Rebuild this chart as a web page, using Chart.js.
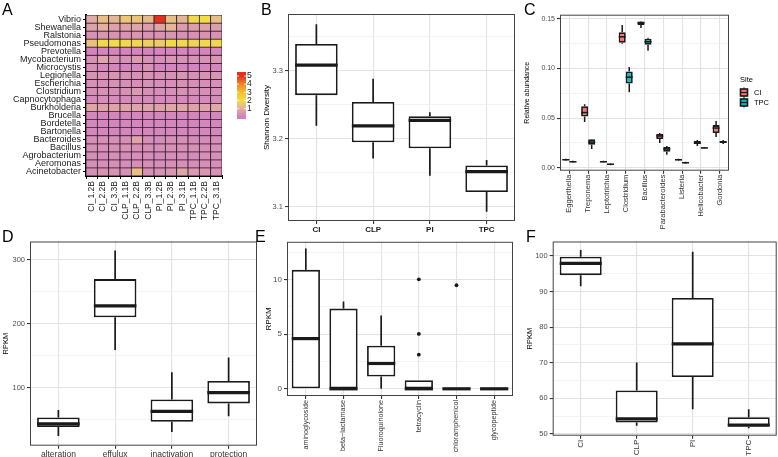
<!DOCTYPE html>
<html>
<head>
<meta charset="utf-8">
<script src="https://cdn.jsdelivr.net/npm/chart.js@4"></script>
<style>
  body { margin: 0; background: #fff; }
  #wrap { position: relative; width: 778px; height: 457px; overflow: hidden; }
  canvas { position: absolute; }
  .tag { position: absolute; font: 16px/1 'Liberation Sans', Arial, sans-serif; color: #000; z-index: 5; }
</style>
</head>
<body>
<div id="wrap">
  <canvas id="cA" style="left:0;top:0" width="255" height="235"></canvas>
  <canvas id="cB" style="left:255px;top:0" width="262" height="235"></canvas>
  <canvas id="cC" style="left:520px;top:0" width="258" height="235"></canvas>
  <canvas id="cD" style="left:0;top:235px" width="260" height="222"></canvas>
  <canvas id="cE" style="left:255px;top:235px" width="262" height="222"></canvas>
  <canvas id="cF" style="left:512px;top:235px" width="266" height="222"></canvas>
  <div class="tag" style="left:2px;top:2px">A</div>
  <div class="tag" style="left:261px;top:2px">B</div>
  <div class="tag" style="left:524px;top:2px">C</div>
  <div class="tag" style="left:2px;top:229px">D</div>
  <div class="tag" style="left:255px;top:229px">E</div>
  <div class="tag" style="left:526px;top:229px">F</div>
</div>
<script>
// ---------- data ----------
// A: heatmap (rows top to bottom)
const genera = ['Vibrio', 'Shewanella', 'Ralstonia', 'Pseudomonas', 'Prevotella', 'Mycobacterium',
  'Microcystis', 'Legionella', 'Escherichia', 'Clostridium', 'Capnocytophaga', 'Burkholderia',
  'Brucella', 'Bordetella', 'Bartonella', 'Bacteroides', 'Bacillus', 'Agrobacterium', 'Aeromonas', 'Acinetobacter'];
const samples = ['CI_1.2B', 'CI_2.2B', 'CI_3.3B', 'CLP_1.1B', 'CLP_2.2B', 'CLP_3.3B',
  'PI_1.2B', 'PI_2.3B', 'PI_3.1B', 'TPC_1.1B', 'TPC_2.2B', 'TPC_3.1B'];
const heat = [
  [0.9, 1.3, 1.1, 1.5, 1.4, 1.2, 5.0, 1.3, 1.1, 1.9, 2.0, 1.3],
  [0.7, 1.0, 0.7, 0.7, 0.8, 0.6, 0.8, 1.1, 0.6, 0.6, 0.7, 0.6],
  [0.4, 0.45, 0.4, 0.4, 0.45, 0.4, 0.4, 0.45, 0.35, 0.35, 0.4, 0.4],
  [1.4, 1.9, 1.95, 1.9, 1.85, 1.7, 1.6, 1.95, 1.9, 1.8, 1.9, 1.85],
  [0.1, 0.1, 0.1, 0.1, 0.1, 0.1, 0.1, 0.1, 0.1, 0.1, 0.1, 0.1],
  [0.35, 0.75, 0.45, 0.35, 0.55, 0.35, 0.3, 0.45, 0.4, 0.35, 0.4, 0.45],
  [0.3, 0.15, 0.15, 0.1, 0.15, 0.4, 0.1, 0.15, 0.15, 0.1, 0.15, 0.15],
  [0.4, 0.4, 0.45, 0.4, 0.35, 0.35, 0.35, 0.4, 0.45, 0.35, 0.4, 0.45],
  [0.35, 0.3, 0.35, 0.3, 0.3, 0.35, 0.3, 0.3, 0.35, 0.3, 0.3, 0.35],
  [0.3, 0.35, 0.3, 0.35, 0.5, 0.3, 0.3, 0.3, 0.35, 0.3, 0.3, 0.3],
  [0.2, 0.3, 0.25, 0.2, 0.25, 0.25, 0.2, 0.2, 0.2, 0.2, 0.2, 0.25],
  [0.8, 0.7, 0.75, 0.75, 0.75, 0.75, 0.7, 0.8, 0.8, 0.7, 0.75, 0.85],
  [0.15, 0.15, 0.15, 0.15, 0.15, 0.15, 0.15, 0.15, 0.15, 0.15, 0.15, 0.15],
  [0.15, 0.15, 0.15, 0.15, 0.15, 0.15, 0.15, 0.15, 0.15, 0.15, 0.15, 0.15],
  [0.15, 0.15, 0.15, 0.15, 0.15, 0.15, 0.15, 0.15, 0.15, 0.15, 0.15, 0.15],
  [0.3, 0.3, 0.3, 0.3, 0.75, 0.3, 0.25, 0.3, 0.3, 0.25, 0.25, 0.3],
  [0.35, 0.3, 0.3, 0.4, 0.3, 0.3, 0.3, 0.35, 0.3, 0.35, 0.3, 0.35],
  [0.3, 0.25, 0.3, 0.25, 0.3, 0.3, 0.25, 0.3, 0.3, 0.25, 0.3, 0.3],
  [0.3, 0.3, 0.3, 0.3, 0.3, 0.3, 0.3, 0.3, 0.3, 0.3, 0.3, 0.3],
  [0.35, 0.4, 0.4, 0.35, 1.3, 0.35, 0.35, 0.45, 0.8, 0.55, 0.45, 0.4]
];
const heatTicks = [1, 2, 3, 4, 5];

// B: Shannon diversity
const divCats = ['CI', 'CLP', 'PI', 'TPC'];
const divLow = [3.219, 3.171, 3.146, 3.093];
const divQ1 = [3.264, 3.195, 3.186, 3.122];
const divMed = [3.308, 3.219, 3.227, 3.152];
const divQ3 = [3.339, 3.254, 3.233, 3.161];
const divHigh = [3.368, 3.288, 3.239, 3.169];
const divTicks = [3.1, 3.2, 3.3];

// C: relative abundance by site
const abCats = ['Eggerthella', 'Treponema', 'Leptotrichia', 'Clostridium', 'Bacillus',
  'Parabacteroides', 'Listeria', 'Helicobacter', 'Gordonia'];
const ciLow = [0.007, 0.046, 0.005, 0.125, 0.141, 0.025, 0.007, 0.022, 0.031];
const ciQ1 = [0.0075, 0.0516, 0.0055, 0.126, 0.144, 0.029, 0.0075, 0.024, 0.035];
const ciMed = [0.008, 0.0556, 0.006, 0.132, 0.146, 0.032, 0.008, 0.025, 0.040];
const ciQ3 = [0.0088, 0.062, 0.0068, 0.1366, 0.1475, 0.034, 0.0088, 0.027, 0.043];
const ciHigh = [0.009, 0.064, 0.007, 0.144, 0.148, 0.035, 0.009, 0.028, 0.047];
const tpcLow = [0.005, 0.019, 0.0025, 0.076, 0.118, 0.013, 0.004, 0.019, 0.024];
const tpcQ1 = [0.0055, 0.0231, 0.003, 0.085, 0.124, 0.016, 0.0045, 0.0195, 0.025];
const tpcMed = [0.006, 0.0258, 0.0035, 0.0913, 0.127, 0.019, 0.005, 0.020, 0.026];
const tpcQ3 = [0.0065, 0.0288, 0.004, 0.097, 0.130, 0.021, 0.0055, 0.0205, 0.027];
const tpcHigh = [0.007, 0.029, 0.0045, 0.1016, 0.131, 0.022, 0.006, 0.021, 0.028];
const abTicks = [0, 0.05, 0.10, 0.15];
const sites = ['CI', 'TPC'];

// D: resistance mechanism
const mechCats = ['alteration', 'effulux', 'inactivation', 'protection'];
const mechLow = [23.7, 158.7, 30, 55];
const mechQ1 = [38, 210, 46, 75];
const mechMed = [43, 228, 62.6, 92];
const mechQ3 = [53, 270, 81, 110];
const mechHigh = [64.6, 315, 124, 147];
const mechTicks = [100, 200, 300];

// E: antibiotic class
const classCats = ['aminoglycoside', 'beta\u2212lactamase', 'Fluoroquinolone', 'tetracyclin', 'chloramphenicol', 'glycopeptide'];
const classLow = [0, 0, 0, 0, 0, 0];
const classQ1 = [0, 0, 1.12, 0, 0, 0];
const classMed = [4.6, 0, 2.32, 0, 0, 0];
const classQ3 = [10.9, 7.35, 3.95, 0.79, 0, 0];
const classHigh = [12.86, 8.0, 6.72, 0.79, 0, 0];
const outlierCats = ['tetracyclin', 'tetracyclin', 'tetracyclin', 'chloramphenicol'];
const outlierVals = [10.03, 5.03, 3.13, 9.49];
const classTicks = [0, 5, 10];

// F: RPKM by site
const siteCats = ['CI', 'CLP', 'PI', 'TPC'];
const siteLow = [91.5, 52.3, 56.9, 51.6];
const siteQ1 = [94.6, 53.2, 66, 52];
const siteMed = [97.9, 54.2, 75.3, 52.5];
const siteQ3 = [99.8, 62.2, 88.2, 54.7];
const siteHigh = [101.7, 70.1, 101.2, 56.9];
const siteTicks = [50, 60, 70, 80, 90, 100];

// ---------- shared setup ----------
Chart.defaults.font.family = "'Liberation Sans', Arial, Helvetica, sans-serif";
Chart.defaults.animation = false;
Chart.defaults.responsive = false;
Chart.defaults.devicePixelRatio = 1;
Chart.defaults.plugins.legend.display = false;
Chart.defaults.plugins.tooltip.enabled = false;

// whiskers, medians and the grey panel frame
const boxPlugin = {
  id: 'boxes',
  afterDatasetsDraw(chart, args, opts) {
    const ctx = chart.ctx, y = chart.scales.y;
    chart.data.datasets.forEach((ds, di) => {
      if (!ds.med) return;
      chart.getDatasetMeta(di).data.forEach((bar, i) => {
        const x = bar.x, w = bar.width;
        ctx.save();
        ctx.strokeStyle = '#1a1a1a';
        ctx.lineWidth = opts.whisker || 1.7;
        ctx.beginPath();
        ctx.moveTo(x, y.getPixelForValue(ds.low[i]));
        ctx.lineTo(x, y.getPixelForValue(ds.data[i][0]));
        ctx.moveTo(x, y.getPixelForValue(ds.data[i][1]));
        ctx.lineTo(x, y.getPixelForValue(ds.high[i]));
        ctx.stroke();
        const my = y.getPixelForValue(ds.med[i]);
        ctx.lineWidth = opts.median || 3.2;
        ctx.beginPath();
        ctx.moveTo(x - w / 2, my);
        ctx.lineTo(x + w / 2, my);
        ctx.stroke();
        ctx.restore();
      });
    });
    const a = chart.chartArea;
    ctx.save();
    ctx.strokeStyle = '#444';
    ctx.lineWidth = 1;
    ctx.strokeRect(a.left + 0.5, a.top + 0.5, a.width - 1, a.height - 1);
    ctx.restore();
  }
};

function boxSet(q1, q3, low, med, high, fill) {
  return {
    type: 'bar',
    data: q1.map((v, i) => [v, q3[i]]),
    low: low, med: med, high: high,
    backgroundColor: fill,
    borderColor: '#1a1a1a',
    borderWidth: 1.8,
    borderSkipped: false
  };
}

function yAxis(min, max, majors, fmt, title, titleOff, width, size, titleSize) {
  const step = majors[1] - majors[0];
  const minors = majors.slice(0, -1).map((v, i) => (v + majors[i + 1]) / 2);
  [majors[0] - step / 2, majors[majors.length - 1] + step / 2].forEach(v => {
    if (v > min && v < max) minors.push(v);
  });
  const all = majors.concat(minors).sort((a, b) => a - b);
  const isMajor = v => majors.indexOf(v) >= 0;
  return {
    type: 'linear', min: min, max: max,
    afterBuildTicks: s => { s.ticks = all.map(v => ({ value: v })); },
    afterFit: s => { s.width = width; },
    ticks: {
      autoSkip: false, padding: 2, color: '#4d4d4d', font: { size: size },
      callback: v => isMajor(v) ? fmt(v) : ''
    },
    grid: {
      color: c => c.tick && isMajor(c.tick.value) ? '#e3e3e3' : '#eeeeee',
      lineWidth: c => c.tick && isMajor(c.tick.value) ? 1.1 : 0.7,
      tickLength: 3,
      tickColor: c => c.tick && isMajor(c.tick.value) ? '#333' : 'rgba(0,0,0,0)'
    },
    border: { display: false },
    title: { display: true, text: title, color: '#000', font: { size: titleSize }, padding: { top: titleOff, bottom: 0 } }
  };
}

function xAxis(height, size, rotate, bold, color) {
  return {
    type: 'category',
    afterFit: s => { s.height = height; },
    grid: { offset: false, color: '#e3e3e3', lineWidth: 1.1, tickLength: 3, tickColor: '#333' },
    border: { display: false },
    ticks: {
      autoSkip: false, padding: 1, color: color || '#333',
      font: { size: size, weight: bold ? 'bold' : 'normal' },
      minRotation: rotate ? 90 : 0, maxRotation: rotate ? 90 : 0
    }
  };
}

// ---------- A: heatmap ----------
const heatStops = [
  [0, [210, 128, 194]],
  [1, [226, 176, 160]],
  [2, [243, 221, 70]],
  [3, [244, 190, 44]],
  [4, [237, 136, 38]],
  [5, [225, 48, 30]]
];
function heatColor(v) {
  const s = heatStops;
  if (v <= s[0][0]) return 'rgb(' + s[0][1].join(',') + ')';
  for (let i = 1; i < s.length; i++) {
    if (v <= s[i][0]) {
      const t = (v - s[i - 1][0]) / (s[i][0] - s[i - 1][0]);
      return 'rgb(' + s[i - 1][1].map((c, k) => Math.round(c + (s[i][1][k] - c) * t)).join(',') + ')';
    }
  }
  return 'rgb(' + s[s.length - 1][1].join(',') + ')';
}

const colorbarPlugin = {
  id: 'colorbar',
  afterDraw(chart) {
    const ctx = chart.ctx, a = chart.chartArea;
    const x = a.right + 15, w = 9, top = a.top + 57, bottom = a.top + 104;
    const lo = -0.3, hi = 5.5;
    for (let py = top; py < bottom; py++) {
      const v = lo + (bottom - py - 0.5) / (bottom - top) * (hi - lo);
      ctx.fillStyle = heatColor(v);
      ctx.fillRect(x, py, w, 1);
    }
    ctx.save();
    ctx.font = "8.5px 'Liberation Sans', Arial, sans-serif";
    ctx.fillStyle = '#1a1a1a';
    ctx.textBaseline = 'middle';
    ctx.strokeStyle = '#fff';
    ctx.lineWidth = 0.8;
    heatTicks.forEach(t => {
      const py = bottom - (t - lo) / (hi - lo) * (bottom - top);
      ctx.beginPath();
      ctx.moveTo(x, py); ctx.lineTo(x + 2, py);
      ctx.moveTo(x + w - 2, py); ctx.lineTo(x + w, py);
      ctx.stroke();
      ctx.fillText(String(t), x + w + 1, py);
    });
    ctx.restore();
  }
};

new Chart(document.getElementById('cA'), {
  type: 'bar',
  data: {
    labels: samples,
    datasets: genera.map((g, r) => ({
      label: g,
      data: samples.map(() => [genera.length - 1 - r, genera.length - r]),
      backgroundColor: heat[r].map(heatColor),
      borderColor: '#2a1a24',
      borderWidth: 0.75,
      borderSkipped: false,
      barPercentage: 1,
      categoryPercentage: 1,
      grouped: false
    }))
  },
  options: {
    layout: { padding: { top: 15, right: 33 } },
    scales: {
      x: {
        afterFit: s => { s.height = 59; },
        grid: { drawOnChartArea: false, tickLength: 3, tickColor: '#000' },
        border: { display: true, color: '#000', width: 2 },
        ticks: { autoSkip: false, padding: 2, color: '#1a1a1a', font: { size: 8.5 }, minRotation: 90, maxRotation: 90 }
      },
      y: {
        min: 0, max: genera.length,
        afterBuildTicks: s => { s.ticks = genera.map((g, i) => ({ value: genera.length - 1 - i + 0.5 })); },
        afterFit: s => { s.width = 86; },
        grid: { drawOnChartArea: false, tickLength: 3, tickColor: '#000' },
        border: { display: true, color: '#000', width: 2 },
        ticks: {
          autoSkip: false, padding: 2, color: '#1a1a1a', font: { size: 9 },
          callback: v => genera[genera.length - 1 - Math.floor(v)]
        }
      }
    }
  },
  plugins: [colorbarPlugin]
});

// ---------- B: Shannon diversity ----------
new Chart(document.getElementById('cB'), {
  type: 'bar',
  data: {
    labels: divCats,
    datasets: [boxSet(divQ1, divQ3, divLow, divMed, divHigh, '#fff')]
  },
  options: {
    layout: { padding: { top: 14, right: 2 } },
    datasets: { bar: { categoryPercentage: 0.75, barPercentage: 1 } },
    scales: {
      x: xAxis(14, 8, false, true, '#1a1a1a'),
      y: yAxis(3.0795, 3.383, divTicks, v => v.toFixed(1), 'Shannon Diversity', 7, 33, 7.5, 8)
    }
  },
  plugins: [boxPlugin]
});

// ---------- C: relative abundance ----------
const siteColors = ['#F8766D', '#00BFC4'];
const siteLegend = {
  id: 'siteLegend',
  afterDraw(chart) {
    const ctx = chart.ctx, a = chart.chartArea;
    const x = a.right + 11;
    ctx.save();
    ctx.font = "7.5px 'Liberation Sans', Arial, sans-serif";
    ctx.fillStyle = '#000';
    ctx.textBaseline = 'middle';
    ctx.fillText('Site', x, 80);
    sites.forEach((s, i) => {
      const cy = 92.5 + i * 10;
      ctx.strokeStyle = '#1a1a1a';
      ctx.lineWidth = 1.2;
      ctx.beginPath();
      ctx.moveTo(x + 4, cy - 5); ctx.lineTo(x + 4, cy + 5);
      ctx.stroke();
      ctx.fillStyle = siteColors[i];
      ctx.fillRect(x + 0.5, cy - 3.5, 7, 7);
      ctx.lineWidth = 1.6;
      ctx.strokeRect(x + 0.5, cy - 3.5, 7, 7);
      ctx.lineWidth = 1.2;
      ctx.beginPath();
      ctx.moveTo(x + 0.5, cy); ctx.lineTo(x + 7.5, cy);
      ctx.stroke();
      ctx.fillStyle = '#000';
      ctx.fillText(s, x + 14, cy);
    });
    ctx.restore();
  }
};

new Chart(document.getElementById('cC'), {
  type: 'bar',
  data: {
    labels: abCats,
    datasets: [
      Object.assign(boxSet(ciQ1, ciQ3, ciLow, ciMed, ciHigh, siteColors[0]), { label: sites[0] }),
      Object.assign(boxSet(tpcQ1, tpcQ3, tpcLow, tpcMed, tpcHigh, siteColors[1]), { label: sites[1] })
    ]
  },
  options: {
    layout: { padding: { top: 14.7, right: 49 } },
    datasets: { bar: { categoryPercentage: 0.75, barPercentage: 1 } },
    plugins: { boxes: { whisker: 1.5, median: 1.5 } },
    scales: {
      x: xAxis(64.3, 7.5, true, false, '#333'),
      y: yAxis(-0.003, 0.1543, abTicks, v => v.toFixed(2), 'Relative abundance', 3, 40, 7, 7)
    }
  },
  plugins: [boxPlugin, siteLegend]
});

// ---------- D: mechanism ----------
new Chart(document.getElementById('cD'), {
  type: 'bar',
  data: {
    labels: mechCats,
    datasets: [boxSet(mechQ1, mechQ3, mechLow, mechMed, mechHigh, '#fff')]
  },
  options: {
    layout: { padding: { top: 5, right: 3 } },
    datasets: { bar: { categoryPercentage: 0.75, barPercentage: 1 } },
    scales: {
      x: xAxis(11.3, 8.5, false, false, '#333'),
      y: yAxis(8.6, 329, mechTicks, v => String(v), 'RPKM', 1.5, 30, 7.5, 7.5)
    }
  },
  plugins: [boxPlugin]
});

// ---------- E: antibiotic class ----------
new Chart(document.getElementById('cE'), {
  type: 'bar',
  data: {
    labels: classCats,
    datasets: [
      boxSet(classQ1, classQ3, classLow, classMed, classHigh, '#fff'),
      {
        type: 'scatter',
        data: outlierCats.map((c, i) => ({ x: c, y: outlierVals[i] })),
        pointRadius: 1.9, pointBackgroundColor: '#1a1a1a', pointBorderWidth: 0
      }
    ]
  },
  options: {
    layout: { padding: { top: 5, right: 3 } },
    datasets: { bar: { categoryPercentage: 0.75, barPercentage: 1 } },
    scales: {
      x: xAxis(61, 7.2, true, false, '#333'),
      y: yAxis(-0.66, 13.47, classTicks, v => String(v), 'RPKM', 9, 32, 8, 8)
    }
  },
  plugins: [boxPlugin]
});

// ---------- F: site ----------
new Chart(document.getElementById('cF'), {
  type: 'bar',
  data: {
    labels: siteCats,
    datasets: [boxSet(siteQ1, siteQ3, siteLow, siteMed, siteHigh, '#fff')]
  },
  options: {
    layout: { padding: { top: 4.7, right: 1.3 } },
    datasets: { bar: { categoryPercentage: 0.75, barPercentage: 1 } },
    scales: {
      x: xAxis(21.3, 8, true, false, '#333'),
      y: yAxis(49.5, 104.06, siteTicks, v => String(v), 'RPKM', 13, 40.7, 7.5, 7.5)
    }
  },
  plugins: [boxPlugin]
});
</script>
</body>
</html>
